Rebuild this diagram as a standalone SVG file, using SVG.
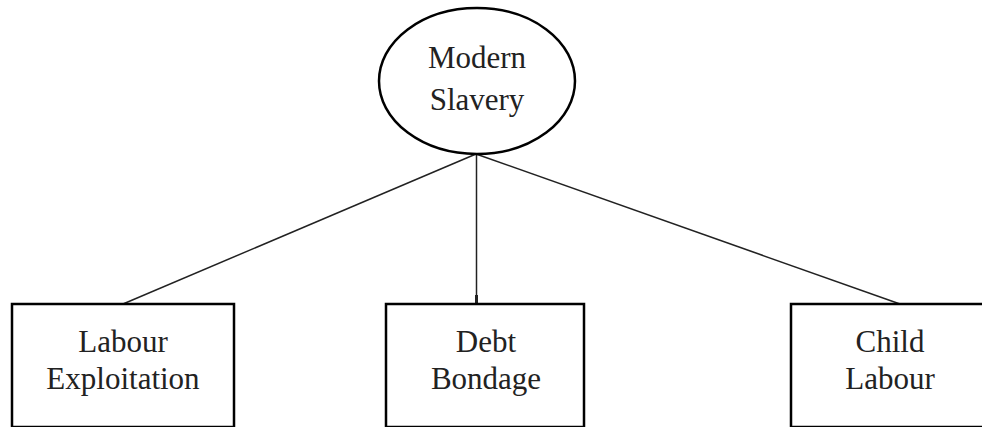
<svg xmlns="http://www.w3.org/2000/svg" width="982" height="427" viewBox="0 0 982 427">
<defs>
<style>
.node{fill:#fff;stroke:#000;stroke-width:2.5}
.lbl{font-family:"Liberation Serif","Times New Roman",serif;font-size:31px;fill:#222;text-anchor:middle}
.conn{stroke:#222;stroke-width:1.5;fill:none}
</style>
<marker id="arr" markerWidth="8" markerHeight="4" refX="8" refY="2" orient="auto" markerUnits="userSpaceOnUse" viewBox="0 0 8 4">
<path d="M0,0.5 L8,0.5 L8,3.5 L0,3.5 Z" fill="#222"/>
</marker>
</defs>
<rect width="982" height="427" fill="#fff"/>
<g id="connectors">
<line class="conn" x1="476" y1="154" x2="123" y2="304"/>
<line class="conn" x1="476.5" y1="154" x2="476.5" y2="303" marker-end="url(#arr)"/>
<line class="conn" x1="476" y1="154" x2="900" y2="304"/>
</g>
<g id="modern-slavery">
<ellipse class="node" cx="477" cy="81" rx="98" ry="73" stroke-width="3"/>
<text class="lbl" x="477" y="68">Modern</text>
<text class="lbl" x="477" y="110">Slavery</text>
</g>
<g id="labour-exploitation">
<rect class="node" x="12" y="304" width="222" height="123"/>
<text class="lbl" x="123" y="352">Labour</text>
<text class="lbl" x="123" y="389">Exploitation</text>
</g>
<g id="debt-bondage">
<rect class="node" x="386" y="304" width="198" height="123"/>
<text class="lbl" x="486" y="352">Debt</text>
<text class="lbl" x="486" y="389">Bondage</text>
</g>
<g id="child-labour">
<rect class="node" x="791" y="304" width="210" height="123"/>
<text class="lbl" x="890" y="352">Child</text>
<text class="lbl" x="890" y="389">Labour</text>
</g>
</svg>
